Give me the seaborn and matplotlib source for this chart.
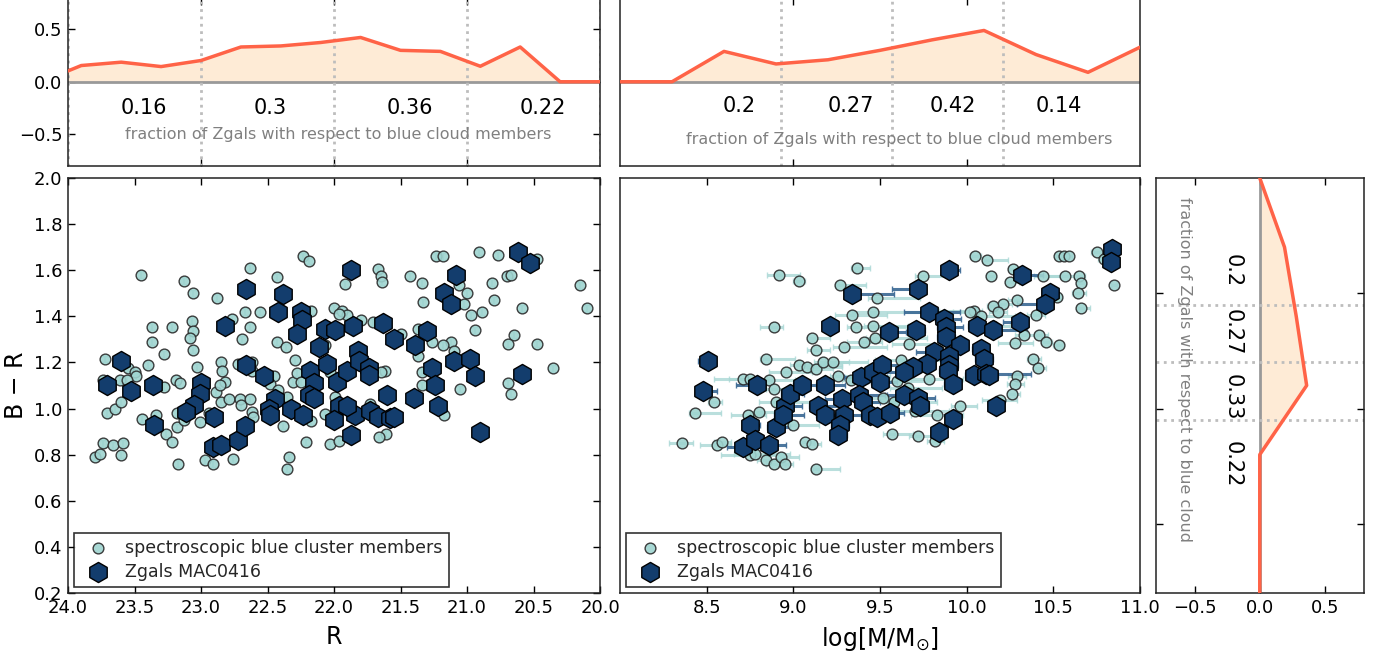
import matplotlib
matplotlib.use("Agg")
import matplotlib.pyplot as plt
import numpy as np
import pandas as pd
import seaborn as sns

# ---------------- data ----------------
# left panel: spectroscopic blue cluster members (R, B-R)
spec_R = [23.45, 23.13, 23.06, 22.63, 22.88, 22.43, 22.23, 22.19,
          23.37, 23.22, 23.37, 23.28, 23.07, 23.06, 23.08, 23.06, 23.03,
          23.72, 23.40, 23.55, 23.50, 23.49, 23.74, 23.61, 23.56, 23.28, 23.19, 23.16,
          23.71, 23.65, 23.60, 23.44, 23.34,
          23.80, 23.76, 23.74, 23.66, 23.59, 23.60,
          23.26, 23.22, 23.17, 23.18, 23.18, 23.13, 23.01,
          22.97, 22.91, 22.76, 22.94, 22.89,
          22.85, 22.84, 22.82, 22.86, 22.85, 22.79, 22.71, 22.70, 22.63, 22.62, 22.61,
          22.69, 22.67, 22.63, 22.56, 22.77, 22.72, 22.62, 22.62,
          22.43, 22.36, 22.45, 22.48, 22.42, 22.29, 22.31, 22.28, 22.25,
          22.38, 22.35, 22.34, 22.35, 22.21, 22.17, 22.17, 22.00, 22.07, 22.03, 22.07, 22.03,
          21.94, 21.90, 21.96, 21.92, 21.80, 21.71, 21.67, 21.65, 21.64, 21.43, 21.34, 21.33,
          21.23, 21.18, 21.06, 21.00, 21.02, 20.97, 20.94, 20.89, 20.91, 20.77, 20.81, 20.80,
          20.70, 20.67, 20.59, 20.47, 20.65, 20.69, 20.47, 20.35, 20.15, 20.10, 20.69, 20.67,
          21.05, 21.17, 21.12, 21.18, 21.10, 21.26, 21.37, 21.37, 21.34, 21.34, 21.50, 21.62,
          21.65, 21.61, 21.66, 21.73, 21.96, 21.99]
spec_BR = [1.58, 1.555, 1.50, 1.61, 1.48, 1.57, 1.66, 1.64,
           1.355, 1.355, 1.29, 1.235, 1.38, 1.335, 1.305, 1.255, 1.18,
           1.215, 1.19, 1.175, 1.16, 1.14, 1.125, 1.125, 1.125, 1.095, 1.125, 1.11,
           0.98, 1.00, 1.03, 0.955, 0.97,
           0.79, 0.805, 0.85, 0.84, 0.85, 0.80,
           0.89, 0.855, 0.76, 0.92, 0.98, 0.95, 0.94,
           0.775, 0.76, 0.78, 0.98, 1.07,
           1.20, 1.165, 1.115, 1.10, 1.03, 1.04, 1.04, 1.015, 1.04, 0.985, 0.965,
           1.30, 1.42, 1.355, 1.42, 1.39, 1.195, 1.20, 1.165,
           1.29, 1.265, 1.14, 1.105, 1.08, 1.21, 1.115, 1.155, 1.115,
           0.925, 1.05, 0.79, 0.74, 0.855, 0.945, 1.425, 1.435, 0.975, 0.845, 1.275, 1.16,
           1.425, 1.405, 1.41, 1.54, 1.385, 1.375, 1.605, 1.575, 1.55, 1.575, 1.545, 1.46,
           1.66, 1.66, 1.535, 1.50, 1.455, 1.405, 1.34, 1.42, 1.68, 1.665, 1.545, 1.47,
           1.575, 1.58, 1.435, 1.65, 1.32, 1.28, 1.28, 1.175, 1.535, 1.435, 1.11, 1.065,
           1.085, 0.97, 1.29, 1.275, 1.25, 1.29, 1.345, 1.23, 1.16, 1.10, 1.325, 1.165,
           1.16, 0.89, 0.875, 1.02, 0.86, 1.05]

# left panel: Zgals (R, B-R)
zgal_R = [23.60, 23.71, 23.53, 23.36, 23.35, 23.00, 23.01, 23.05, 23.11, 22.90, 22.91, 22.85,
          22.72, 22.67, 22.66, 22.82, 22.66, 22.53, 22.38, 22.42, 22.25, 22.24, 22.28, 22.44,
          22.49, 22.48, 22.32, 22.23, 22.18, 22.15, 22.19, 22.15, 22.11, 22.07, 22.05,
          21.87, 21.86, 21.99, 21.63, 21.55, 21.39, 21.30, 21.17, 21.12, 21.08, 21.10, 20.98,
          20.94, 21.26, 21.24, 21.22, 21.40, 21.60, 20.90, 20.62, 20.53, 20.59, 21.98, 21.90,
          21.82, 21.81, 21.74, 21.74, 21.96, 22.00, 21.84, 21.87, 21.73, 21.67, 21.58, 21.55, 21.90]
zgal_BR = [1.205, 1.10, 1.075, 1.10, 0.93, 1.11, 1.065, 1.015, 0.985, 0.965, 0.835, 0.84,
           0.865, 0.925, 1.52, 1.36, 1.19, 1.14, 1.495, 1.42, 1.42, 1.385, 1.325, 1.04,
           1.00, 0.97, 1.00, 0.97, 1.165, 1.11, 1.06, 1.045, 1.265, 1.345, 1.195,
           1.60, 1.36, 1.34, 1.37, 1.30, 1.275, 1.335, 1.50, 1.455, 1.58, 1.205, 1.215,
           1.14, 1.175, 1.10, 1.01, 1.045, 1.06, 0.90, 1.68, 1.63, 1.15, 1.115, 1.165,
           1.25, 1.205, 1.175, 1.145, 1.01, 0.95, 0.97, 0.885, 0.99, 0.965, 0.96, 0.965, 1.01]

# middle panel: spectroscopic members (log mass, B-R, mass error low / high)
spec_mass = [8.92, 9.03, 9.365, 9.27, 9.48, 9.34, 9.36, 9.46, 9.46, 8.89, 9.11, 9.13, 9.29, 9.41,
             9.47, 8.84, 9.03, 9.08, 9.13, 9.17, 9.23, 8.96, 8.71, 8.75, 8.86, 8.89, 9.26, 9.33,
             8.43, 8.54, 8.36, 8.56, 8.59, 8.74, 8.80, 8.75, 8.78, 8.84, 8.89, 8.93, 8.95, 9.00,
             9.07, 9.11, 9.13, 9.57, 8.90, 9.52,
             10.05, 10.12, 9.75, 10.14, 10.25, 10.27, 10.53, 10.56, 10.59, 10.75, 10.79, 10.85,
             10.57, 10.65, 10.66, 10.64, 10.66, 10.44, 10.52, 10.29, 10.21, 10.15, 10.04, 10.02,
             10.08, 10.18, 10.40, 10.42, 10.46, 10.53, 10.28, 10.33, 10.38, 10.41, 10.29, 10.28,
             10.26, 10.19, 9.96, 9.83, 9.72, 9.82, 9.67, 10.15,
             9.62, 9.60, 9.66, 9.78, 9.70, 9.58]
spec_BR_m = [1.58, 1.555, 1.61, 1.535, 1.48, 1.405, 1.355, 1.42, 1.36, 1.355, 1.305, 1.255, 1.265, 1.29,
             1.305, 1.215, 1.19, 1.18, 1.17, 1.20, 1.20, 1.16, 1.13, 1.13, 1.125, 1.085, 1.14, 1.125,
             0.98, 1.03, 0.85, 0.84, 0.855, 0.97, 0.985, 0.80, 0.805, 0.775, 0.76, 0.79, 0.76, 0.93,
             0.855, 0.845, 0.74, 0.89, 1.03, 1.045,
             1.66, 1.645, 1.575, 1.575, 1.55, 1.605, 1.66, 1.66, 1.66, 1.68, 1.65, 1.535,
             1.575, 1.575, 1.545, 1.50, 1.435, 1.575, 1.485, 1.47, 1.455, 1.445, 1.425, 1.42,
             1.40, 1.42, 1.405, 1.32, 1.29, 1.275, 1.285, 1.32, 1.215, 1.175, 1.14, 1.105,
             1.065, 1.035, 1.01, 0.97, 0.88, 0.86, 1.28, 1.36,
             1.21, 1.12, 1.09, 1.13, 0.99, 1.03]
spec_err_lo = [0.07, 0.03, 0.03, 0.03, 0.05, 0.10, 0.05, 0.12, 0.05, 0.08, 0.03, 0.05, 0.06, 0.10,
               0.05, 0.03, 0.05, 0.03, 0.05, 0.05, 0.05, 0.10, 0.17, 0.12, 0.05, 0.05, 0.05, 0.05,
               0.03, 0.03, 0.08, 0.10, 0.05, 0.10, 0.05, 0.17, 0.12, 0.05, 0.05, 0.03, 0.03, 0.05,
               0.03, 0.03, 0.03, 0.05, 0.10, 0.10,
               0.03, 0.03, 0.05, 0.03, 0.03, 0.03, 0.02, 0.02, 0.02, 0.03, 0.03, 0.02,
               0.10, 0.03, 0.03, 0.03, 0.03, 0.05, 0.03, 0.05, 0.04, 0.03, 0.20, 0.10,
               0.05, 0.05, 0.05, 0.03, 0.03, 0.03, 0.10, 0.05, 0.03, 0.03, 0.05, 0.05,
               0.03, 0.10, 0.05, 0.15, 0.05, 0.05, 0.10, 0.05,
               0.15, 0.17, 0.10, 0.10, 0.10, 0.15]
spec_err_hi = [0.12, 0.04, 0.08, 0.15, 0.25, 0.20, 0.30, 0.30, 0.20, 0.05, 0.10, 0.08, 0.25, 0.10,
               0.30, 0.17, 0.25, 0.20, 0.10, 0.15, 0.20, 0.15, 0.08, 0.10, 0.15, 0.20, 0.30, 0.20,
               0.15, 0.05, 0.06, 0.08, 0.05, 0.10, 0.15, 0.15, 0.20, 0.10, 0.06, 0.10, 0.05, 0.15,
               0.05, 0.05, 0.14, 0.12, 0.25, 0.15,
               0.03, 0.12, 0.15, 0.03, 0.05, 0.03, 0.02, 0.02, 0.02, 0.05, 0.05, 0.02,
               0.05, 0.03, 0.03, 0.05, 0.05, 0.10, 0.03, 0.03, 0.05, 0.05, 0.05, 0.05,
               0.20, 0.05, 0.05, 0.05, 0.03, 0.03, 0.10, 0.10, 0.05, 0.05, 0.05, 0.05,
               0.05, 0.10, 0.10, 0.15, 0.08, 0.05, 0.20, 0.10,
               0.25, 0.20, 0.20, 0.20, 0.20, 0.25]

# middle panel: Zgals (log mass, B-R, mass error low / high)
zgal_mass = [8.51, 8.48, 8.79, 8.75, 8.71, 8.78, 8.86, 8.90, 8.95, 8.94, 8.98, 9.05, 9.18, 9.14,
             9.18, 9.21, 9.34, 9.28, 9.29, 9.27, 9.26, 9.39, 9.38, 9.40, 9.46, 9.51, 9.50, 9.44,
             9.48, 9.55, 9.56,
             9.90, 9.72, 9.78, 9.87, 9.88, 9.88, 9.71, 9.96, 9.81, 9.77, 9.69, 9.64, 9.90, 9.90,
             9.89, 9.92, 10.06, 10.15, 10.08, 10.10, 10.04, 10.11, 10.13, 10.31, 10.32, 10.48,
             10.45, 10.84, 10.83, 9.64, 9.72, 9.73, 9.92, 9.84, 10.17]
zgal_BR_m = [1.205, 1.075, 1.10, 0.93, 0.835, 0.865, 0.84, 0.92, 1.01, 0.97, 1.065, 1.10, 1.10, 1.01,
             0.97, 1.36, 1.495, 1.04, 0.97, 0.93, 0.885, 1.135, 1.06, 1.03, 1.16, 1.19, 1.115, 0.97,
             0.965, 1.33, 0.98,
             1.60, 1.52, 1.42, 1.39, 1.355, 1.31, 1.34, 1.275, 1.245, 1.195, 1.18, 1.16, 1.23, 1.19,
             1.165, 1.105, 1.36, 1.34, 1.26, 1.215, 1.145, 1.15, 1.145, 1.375, 1.58, 1.50,
             1.455, 1.69, 1.635, 1.06, 1.045, 1.01, 0.955, 0.90, 1.01]
zgal_err_lo = [0.06, 0.03, 0.12, 0.03, 0.09, 0.03, 0.03, 0.05, 0.05, 0.05, 0.05, 0.05, 0.05, 0.05,
               0.05, 0.03, 0.03, 0.10, 0.05, 0.05, 0.05, 0.10, 0.05, 0.05, 0.10, 0.05, 0.05, 0.05,
               0.05, 0.05, 0.05,
               0.03, 0.15, 0.14, 0.05, 0.05, 0.05, 0.05, 0.05, 0.10, 0.05, 0.05, 0.05, 0.05, 0.05,
               0.05, 0.05, 0.05, 0.05, 0.05, 0.05, 0.05, 0.05, 0.05, 0.10, 0.03, 0.03,
               0.16, 0.02, 0.02, 0.10, 0.05, 0.05, 0.03, 0.03, 0.03]
zgal_err_hi = [0.03, 0.08, 0.03, 0.06, 0.03, 0.03, 0.10, 0.08, 0.10, 0.12, 0.08, 0.10, 0.12, 0.15,
               0.10, 0.03, 0.24, 0.15, 0.12, 0.05, 0.05, 0.15, 0.15, 0.10, 0.20, 0.15, 0.10, 0.05,
               0.10, 0.10, 0.08,
               0.06, 0.03, 0.18, 0.10, 0.10, 0.05, 0.05, 0.05, 0.05, 0.05, 0.05, 0.05, 0.05, 0.05,
               0.05, 0.05, 0.10, 0.20, 0.05, 0.05, 0.05, 0.26, 0.05, 0.03, 0.12, 0.03,
               0.03, 0.02, 0.02, 0.10, 0.10, 0.05, 0.03, 0.03, 0.03]

# fraction curves
frac_R_x = [24.2, 23.9, 23.6, 23.3, 23.0, 22.7, 22.4, 22.1, 21.8, 21.5, 21.2, 20.9, 20.6, 20.3, 20.0]
frac_R_y = [0.0, 0.155, 0.187, 0.145, 0.203, 0.332, 0.342, 0.375, 0.423, 0.30, 0.29, 0.148, 0.332, 0.0, 0.0]
frac_M_x = [8.0, 8.3, 8.6, 8.9, 9.2, 9.5, 9.8, 10.1, 10.4, 10.7, 11.0]
frac_M_y = [0.0, 0.0, 0.29, 0.17, 0.21, 0.30, 0.40, 0.49, 0.26, 0.09, 0.33]
frac_BR_y = [2.0, 1.7, 1.4, 1.1, 0.8, 0.5, 0.2]
frac_BR_x = [0.0, 0.19, 0.28, 0.36, 0.0, 0.0, 0.0]

# bin edges and bin fractions
R_edges = [24.0, 23.0, 22.0, 21.0, 20.0]
R_bin_labels = ['0.16', '0.3', '0.36', '0.22']
R_label_x = [23.43, 22.48, 21.43, 20.43]
M_edges = [8.93, 9.57, 10.21]
M_bin_labels = ['0.2', '0.27', '0.42', '0.14']
M_label_x = [8.69, 9.33, 9.92, 10.53]
BR_edges = [1.45, 1.20, 0.95]
BR_bin_labels = ['0.2', '0.27', '0.33', '0.22']
BR_label_y = [1.60, 1.33, 1.05, 0.76]

# ---------------- style ----------------
sns.set_theme(style="ticks")
plt.rcParams.update({
    "font.family": ["DejaVu Sans"],
    "xtick.direction": "in", "ytick.direction": "in",
    "xtick.top": True, "ytick.right": True,
    "xtick.major.size": 5, "ytick.major.size": 5,
    "xtick.major.width": 1.0, "ytick.major.width": 1.0,
    "xtick.labelsize": 13, "ytick.labelsize": 13,
    "xtick.color": "black", "ytick.color": "black",
    "axes.edgecolor": "#222222", "axes.linewidth": 1.1,
    "axes.labelsize": 17, "axes.labelcolor": "black",
    "xtick.major.pad": 4, "ytick.major.pad": 4,
})

LINE = "#FF6347"
FILL = "#FEEBD6"
DOT = "#bdbdbd"
TEAL = "#9fd4d0"
NAVY = "#133d6d"
GRAYTXT = "#808080"

W, H = 1385, 657
fig = plt.figure(figsize=(W / 100, H / 100), dpi=100)


def box(l, t, r, b):
    return [l / W, 1 - b / H, (r - l) / W, (b - t) / H]


ax_tl = fig.add_axes(box(68, -2, 600, 165.5))
ax_ml = fig.add_axes(box(68, 178, 600, 593))
ax_tr = fig.add_axes(box(620, -2, 1140, 165.5))
ax_mr = fig.add_axes(box(620, 178, 1140, 593))
ax_sd = fig.add_axes(box(1155.5, 178, 1364, 593))


def style_legend(ax):
    leg = ax.legend(loc="lower left", fontsize=12.5, frameon=True, fancybox=False,
                    edgecolor="black", borderaxespad=0.35, handletextpad=0.6,
                    borderpad=0.35, labelspacing=0.35)
    leg.get_frame().set_linewidth(1.2)
    return leg


# ---------------- left main ----------------
dl_spec = pd.DataFrame({"R": spec_R, "BR": spec_BR})
dl_zgal = pd.DataFrame({"R": zgal_R, "BR": zgal_BR})
ax_ml.errorbar(spec_R, spec_BR, yerr=0.015, fmt="none", ecolor=TEAL, elinewidth=1.5,
               capsize=2, alpha=0.8, zorder=1)
sns.scatterplot(data=dl_spec, x="R", y="BR", ax=ax_ml, s=60, color=TEAL, edgecolor="#2a2a2a",
                linewidth=1.0, alpha=0.9, label="spectroscopic blue cluster members", zorder=3)
sns.scatterplot(data=dl_zgal, x="R", y="BR", ax=ax_ml, marker="h", s=210, color=NAVY,
                edgecolor="black", linewidth=1.0, label="Zgals MAC0416", zorder=4)
ax_ml.set_xlim(24, 20)
ax_ml.set_ylim(0.2, 2.0)
ax_ml.set_xticks(np.arange(24, 19.9, -0.5))
ax_ml.set_xticklabels([f"{v:.1f}" for v in np.arange(24, 19.9, -0.5)])
ax_ml.set_yticks(np.arange(0.2, 2.01, 0.2))
ax_ml.set_yticklabels([f"{v:.1f}" for v in np.arange(0.2, 2.01, 0.2)])
ax_ml.set_xlabel("R", labelpad=6)
ax_ml.set_ylabel("B \u2212 R", labelpad=4)
style_legend(ax_ml)

# ---------------- middle main ----------------
dm_spec = pd.DataFrame({"M": spec_mass, "BR": spec_BR_m})
dm_zgal = pd.DataFrame({"M": zgal_mass, "BR": zgal_BR_m})
ax_mr.errorbar(spec_mass, spec_BR_m, xerr=[spec_err_lo, spec_err_hi], fmt="none",
               ecolor="#a9d8d5", elinewidth=2.2, capsize=2.5, alpha=0.8, zorder=1)
ax_mr.errorbar(zgal_mass, zgal_BR_m, xerr=[zgal_err_lo, zgal_err_hi], fmt="none",
               ecolor="#3a6894", elinewidth=2.2, capsize=2.5, alpha=0.9, zorder=2)
sns.scatterplot(data=dm_spec, x="M", y="BR", ax=ax_mr, s=60, color=TEAL, edgecolor="#2a2a2a",
                linewidth=1.0, alpha=0.9, label="spectroscopic blue cluster members", zorder=3)
sns.scatterplot(data=dm_zgal, x="M", y="BR", ax=ax_mr, marker="h", s=210, color=NAVY,
                edgecolor="black", linewidth=1.0, label="Zgals MAC0416", zorder=4)
ax_mr.set_xlim(8.0, 11.0)
ax_mr.set_ylim(0.2, 2.0)
ax_mr.set_xticks(np.arange(8.5, 11.01, 0.5))
ax_mr.set_xticklabels([f"{v:.1f}" for v in np.arange(8.5, 11.01, 0.5)])
ax_mr.tick_params(axis="y", left=False, right=False, labelleft=False)
ax_mr.set_xlabel(r"log[M/M$_{\odot}$]", labelpad=6)
ax_mr.set_ylabel("")
style_legend(ax_mr)

# ---------------- top left histogram ----------------
dtl = pd.DataFrame({"x": frac_R_x, "y": frac_R_y})
ax_tl.fill_between(frac_R_x, 0, frac_R_y, color=FILL, zorder=1, linewidth=0)
ax_tl.axhline(0, color="#999999", lw=2, zorder=1.5)
sns.lineplot(data=dtl, x="x", y="y", ax=ax_tl, color=LINE, lw=2.5, sort=False, zorder=3)
for e in R_edges:
    ax_tl.axvline(e, color=DOT, ls=":", lw=2, zorder=2)
for xv, lab in zip(R_label_x, R_bin_labels):
    ax_tl.text(xv, -0.25, lab, ha="center", va="center", fontsize=15, color="black")
ax_tl.text(21.97, -0.505, "fraction of Zgals with respect to blue cloud members",
           ha="center", va="center", fontsize=11.5, color=GRAYTXT)
ax_tl.set_xlim(24, 20)
ax_tl.set_ylim(-0.8, 0.8)
ax_tl.set_xticks([23, 22, 21])
ax_tl.set_yticks([-0.5, 0.0, 0.5])
ax_tl.set_yticklabels(["\u22120.5", "0.0", "0.5"])
ax_tl.tick_params(axis="x", labelbottom=False)
ax_tl.set_xlabel("")
ax_tl.set_ylabel("")

# ---------------- top right histogram ----------------
dtr = pd.DataFrame({"x": frac_M_x, "y": frac_M_y})
ax_tr.fill_between(frac_M_x, 0, frac_M_y, color=FILL, zorder=1, linewidth=0)
ax_tr.axhline(0, color="#999999", lw=2, zorder=1.5)
sns.lineplot(data=dtr, x="x", y="y", ax=ax_tr, color=LINE, lw=2.5, sort=False, zorder=3)
for e in M_edges:
    ax_tr.axvline(e, color=DOT, ls=":", lw=2, zorder=2)
for xv, lab in zip(M_label_x, M_bin_labels):
    ax_tr.text(xv, -0.23, lab, ha="center", va="center", fontsize=15, color="black")
ax_tr.text(9.61, -0.555, "fraction of Zgals with respect to blue cloud members",
           ha="center", va="center", fontsize=11.5, color=GRAYTXT)
ax_tr.set_xlim(8.0, 11.0)
ax_tr.set_ylim(-0.8, 0.8)
ax_tr.set_xticks([9, 10])
ax_tr.tick_params(axis="x", labelbottom=False)
ax_tr.tick_params(axis="y", left=False, right=False, labelleft=False)
ax_tr.set_xlabel("")
ax_tr.set_ylabel("")

# ---------------- side histogram ----------------
dsd = pd.DataFrame({"x": frac_BR_x, "y": frac_BR_y})
ax_sd.fill_betweenx(frac_BR_y, 0, frac_BR_x, color=FILL, zorder=1, linewidth=0)
ax_sd.axvline(0, color="#999999", lw=2, zorder=1.5)
sns.lineplot(data=dsd, x="x", y="y", ax=ax_sd, color=LINE, lw=2.5, sort=False,
             orient="y", zorder=3)
for e in BR_edges:
    ax_sd.axhline(e, color=DOT, ls=":", lw=2, zorder=2)
for yv, lab in zip(BR_label_y, BR_bin_labels):
    ax_sd.text(-0.21, yv, lab, ha="center", va="center", fontsize=15, color="black",
               rotation=270)
ax_sd.text(-0.58, 1.17, "fraction of Zgals with respect to blue cloud",
           ha="center", va="center", fontsize=11.5, color=GRAYTXT, rotation=270)
ax_sd.set_xlim(-0.8, 0.8)
ax_sd.set_ylim(0.2, 2.0)
ax_sd.set_xticks([-0.5, 0.0, 0.5])
ax_sd.set_xticklabels(["\u22120.5", "0.0", "0.5"])
ax_sd.set_yticks([0.5, 1.0, 1.5])
ax_sd.tick_params(axis="y", labelleft=False)
ax_sd.set_xlabel("")
ax_sd.set_ylabel("")

fig.savefig("out.png", dpi=100)
